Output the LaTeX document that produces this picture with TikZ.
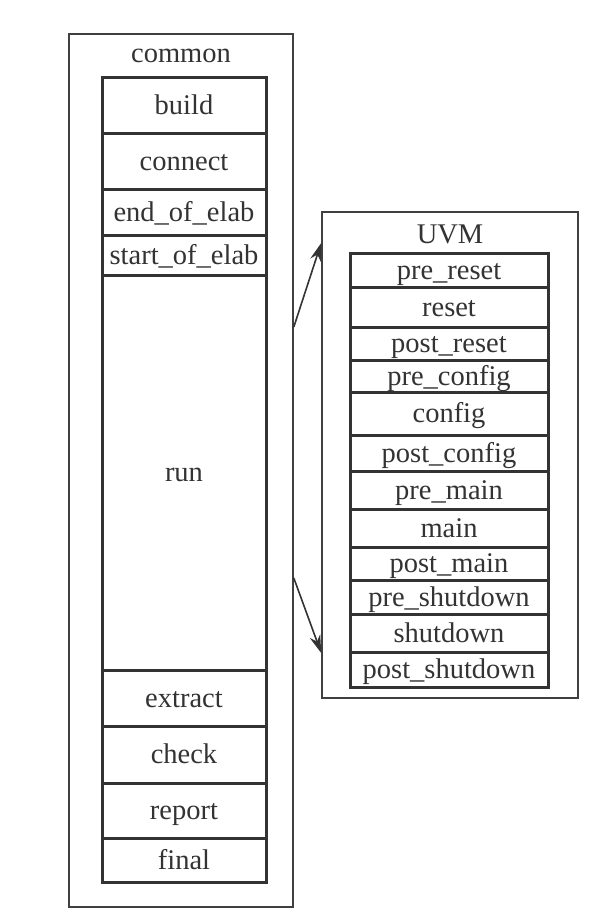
\documentclass[tikz,border=0pt]{standalone}
\usepackage{fontspec}
\setmainfont{Liberation Serif}
\usetikzlibrary{arrows.meta}
\begin{document}
\begin{tikzpicture}[x=1pt,y=-1pt,
  outerbox/.style={draw=black!75,line width=1.6pt,inner sep=0pt},
  phase/.style={draw=black!80,line width=3pt,inner sep=0pt,
    font=\fontsize{28.5}{30}\selectfont,text=black!80,
    text height=20pt,text depth=2pt},
  ttl/.style={font=\fontsize{28.5}{30}\selectfont,text=black!80,inner sep=0pt,
    text height=20pt,text depth=2pt},
  link/.style={draw=black!80,line width=1.6pt,-{Stealth[length=18pt,width=11pt]}}]
\useasboundingbox (0,0) rectangle (600,921);
% outer boxes
\node[outerbox,minimum width=224pt,minimum height=873pt] (common) at (181,470.5) {};
\node[outerbox,minimum width=256pt,minimum height=486pt] (uvm) at (450,455) {};
\node[ttl] (commonlbl) at (181,53) {common};
\node[ttl] (uvmlbl) at (450,234) {UVM};
% left stack x 102-266
\foreach \n/\t/\a/\b in {build/build/77/133, connect/connect/133/189,
  eoe/end\_of\_elab/189/235, soe/start\_of\_elab/235/275, run/run/275/670,
  extract/extract/670/726, check/check/726/783, report/report/783/838,
  final/final/838/882}{
  \pgfmathsetmacro{\c}{(\a+\b)/2}
  \pgfmathsetmacro{\h}{\b-\a}
  \node[phase,minimum width=164pt,minimum height=\h pt] (\n) at (184,\c) {\t};
}
% right stack x 350-548
\foreach \n/\t/\a/\b in {prereset/pre\_reset/253/287, reset/reset/287/327,
  postreset/post\_reset/327/360, preconfig/pre\_config/360/392,
  config/config/392/435, postconfig/post\_config/435/471,
  premain/pre\_main/471/509, main/main/509/547, postmain/post\_main/547/580,
  preshut/pre\_shutdown/580/614, shut/shutdown/614/652,
  postshut/post\_shutdown/652/687}{
  \pgfmathsetmacro{\c}{(\a+\b)/2}
  \pgfmathsetmacro{\h}{\b-\a}
  \node[phase,minimum width=198pt,minimum height=\h pt] (\n) at (449,\c) {\t};
}
% connectors
\coordinate (s1) at (common.east |- 0,327);
\coordinate (t1) at (uvm.west |- 0,243);
\coordinate (s2) at (common.east |- 0,578);
\coordinate (t2) at (uvm.west |- 0,653);
\draw[link] (s1) -- (t1);
\draw[link] (s2) -- (t2);
\end{tikzpicture}
\end{document}
